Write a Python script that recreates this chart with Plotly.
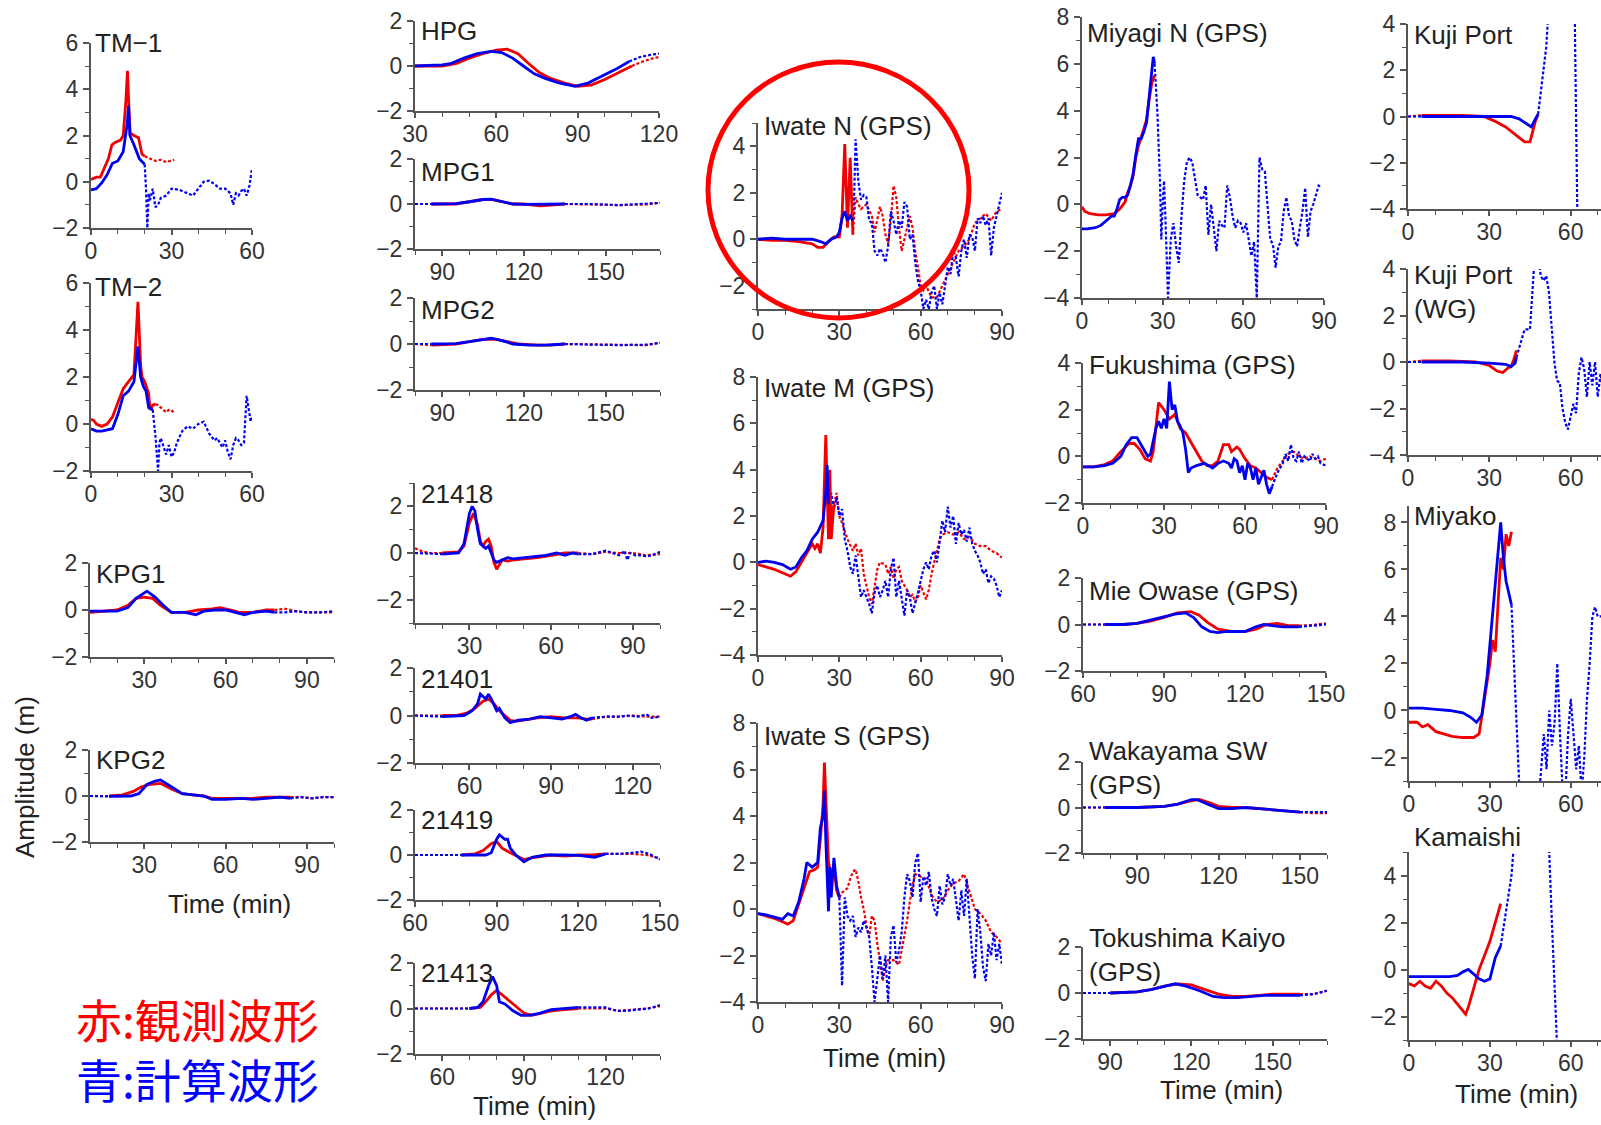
import plotly.graph_objects as go

# ---------------- data (time in min, amplitude in m) ----------------
# *_OBS = observed (red, solid), *_OBS_X = observed outside fit window (red, dotted)
# *_SIM = computed (blue, solid), *_SIM_X = computed outside fit window (blue, dotted)

TM1_OBS = [(0, 0.1), (2, 0.2), (3.5, 0.2), (5, 0.6), (6.5, 1.0), (7.8, 1.6), (9, 1.7), (11, 1.8), (12, 2.0),
           (13, 3.5), (13.6, 4.8), (14.2, 3.0), (14.6, 2.1), (16, 2.0), (17.7, 1.9), (19, 1.2), (20, 1.1)]
TM1_OBS_X = [(20, 1.1), (22, 1.0), (24, 0.9), (26, 0.95), (28, 0.85), (31, 0.95)]
TM1_SIM = [(0, -0.35), (2, -0.3), (4, -0.05), (6, 0.3), (8, 0.8), (10, 0.9), (12, 1.3), (13.5, 2.5), (14, 3.3),
           (14.5, 2.0), (16, 1.6), (18, 1.0), (20, 0.75)]
TM1_SIM_X = [(20, 0.75), (20.5, -0.3), (21, -2.0), (21.5, -0.5), (22, -0.8), (23, -0.3), (24, -1.1), (25, -1.0),
             (26, -0.7), (28, -0.6), (30, -0.3), (33, -0.35), (36, -0.5), (38, -0.6), (40, -0.3), (42, 0.0),
             (44, 0.05), (46, -0.1), (48, -0.3), (50, -0.3), (52, -0.5), (53, -1.0), (54, -0.5), (55, -0.6),
             (56, -0.4), (57, -0.3), (58, -0.6), (59, -0.2), (60, 0.55)]

TM2_OBS = [(0, 0.2), (1, 0.15), (2, 0.0), (4, -0.1), (6, 0.0), (8, 0.3), (10, 0.9), (12, 1.5), (14, 1.8),
           (16, 2.1), (17.5, 5.2), (18.5, 2.5), (19, 2.0), (20, 1.8), (21.5, 1.3), (22, 0.6), (23, 0.8), (24, 0.85)]
TM2_OBS_X = [(24, 0.85), (25, 0.8), (26, 0.7), (28, 0.5), (29, 0.6), (30, 0.6), (31, 0.45)]
TM2_SIM = [(0, -0.2), (2, -0.3), (4, -0.3), (6, -0.25), (8, -0.2), (10, 0.4), (12, 1.2), (14, 1.4), (16, 1.8),
           (17.5, 3.3), (18.5, 2.0), (19.5, 1.6), (20.5, 1.4), (21.5, 0.7), (23, 0.6)]
TM2_SIM_X = [(23, 0.6), (24, -0.5), (25, -2.0), (25.5, -0.8), (26, -0.6), (27, -1.0), (28, -1.3), (29, -0.9),
             (30, -1.4), (31, -1.2), (32, -0.8), (34, -0.3), (36, -0.1), (38, -0.2), (40, 0.0), (42, 0.1),
             (44, -0.4), (46, -0.7), (47, -0.6), (48, -0.8), (49, -1.0), (50, -0.7), (51, -1.2), (52, -1.5),
             (53, -0.9), (54, -0.6), (55, -0.7), (56, -0.9), (57, -0.8), (58, 1.2), (59, 0.5), (59.5, 0.1), (60, 0.3)]

KPG1_OBS = [(10, -0.1), (15, -0.05), (20, 0.0), (24, 0.2), (27, 0.5), (30, 0.55), (33, 0.5), (36, 0.2), (40, -0.1),
            (45, -0.1), (50, 0.0), (55, 0.05), (58, 0.1), (62, 0.0), (65, -0.1), (70, -0.1), (75, 0.0), (78, 0.0)]
KPG1_OBS_X = [(78, 0.0), (82, 0.05), (86, -0.05), (90, -0.1), (95, -0.1), (100, -0.1)]
KPG1_SIM = [(10, -0.05), (20, -0.05), (24, 0.1), (27, 0.5), (31, 0.8), (34, 0.55), (37, 0.2), (40, -0.1), (45, -0.1),
            (49, -0.2), (52, -0.05), (56, 0.0), (60, 0.0), (64, -0.1), (67, -0.2), (70, -0.1), (75, -0.05), (78, -0.1)]
KPG1_SIM_X = [(78, -0.1), (82, -0.1), (86, -0.05), (90, -0.1), (95, -0.1), (100, -0.05)]

KPG2_OBS = [(17, 0.0), (22, 0.05), (26, 0.2), (29, 0.4), (32, 0.5), (36, 0.55), (40, 0.3), (44, 0.1), (48, 0.05),
            (52, 0.0), (55, -0.1), (60, -0.1), (65, -0.1), (70, -0.1), (75, -0.05), (80, -0.05), (84, -0.05)]
KPG2_OBS_X = [(10, 0.0), (17, 0.0), None, (84, -0.05), (88, -0.05), (92, -0.1), (96, -0.05), (100, -0.05)]
KPG2_SIM = [(17, -0.02), (25, 0.0), (28, 0.1), (31, 0.5), (34, 0.65), (36, 0.7), (40, 0.4), (44, 0.1), (48, 0.05),
            (52, 0.0), (55, -0.15), (60, -0.15), (66, -0.1), (70, -0.15), (75, -0.1), (80, -0.05), (84, -0.1)]
KPG2_SIM_X = [(10, 0.0), (17, -0.02), None, (84, -0.1), (88, -0.05), (92, -0.1), (96, -0.05), (100, -0.05)]

HPG_OBS = [(30, 0.0), (35, 0.0), (40, 0.0), (45, 0.1), (50, 0.35), (55, 0.55), (60, 0.7), (64, 0.75), (68, 0.55),
           (72, 0.1), (76, -0.3), (80, -0.55), (85, -0.75), (90, -0.9), (95, -0.85), (100, -0.6), (105, -0.3), (110, 0.0)]
HPG_OBS_X = [(110, 0.0), (114, 0.2), (118, 0.35), (120, 0.4)]
HPG_SIM = [(30, 0.0), (40, 0.05), (43, 0.1), (48, 0.35), (53, 0.55), (58, 0.65), (62, 0.6), (66, 0.35), (70, 0.0),
           (74, -0.35), (78, -0.55), (83, -0.75), (89, -0.9), (94, -0.75), (99, -0.45), (104, -0.15), (109, 0.2)]
HPG_SIM_X = [(109, 0.2), (113, 0.4), (117, 0.5), (120, 0.55)]

MPG1_OBS = [(86, 0.0), (95, 0.0), (100, 0.1), (105, 0.2), (108, 0.2), (112, 0.1), (116, 0.0), (120, 0.0),
            (126, -0.08), (130, -0.05), (135, 0.0)]
MPG1_OBS_X = [(80, 0.0), (86, 0.0), None, (135, 0.0), (145, -0.02), (155, -0.05), (165, -0.02), (170, 0.05)]
MPG1_SIM = [(86, 0.0), (95, 0.02), (100, 0.1), (105, 0.2), (108, 0.22), (112, 0.1), (116, 0.0), (120, -0.02),
            (126, -0.02), (130, 0.0), (135, 0.0)]
MPG1_SIM_X = [(80, 0.0), (86, 0.0), None, (135, 0.0), (145, 0.0), (155, -0.05), (165, 0.0), (170, 0.05)]

MPG2_OBS = [(86, -0.05), (95, 0.0), (100, 0.1), (105, 0.2), (110, 0.2), (114, 0.1), (118, 0.0), (125, -0.05),
            (130, -0.05), (135, 0.0)]
MPG2_OBS_X = [(80, 0.0), (86, -0.05), None, (135, 0.0), (145, -0.02), (155, -0.05), (165, -0.05), (170, 0.05)]
MPG2_SIM = [(86, 0.0), (95, 0.02), (100, 0.1), (105, 0.2), (108, 0.25), (112, 0.15), (116, 0.0), (122, -0.05),
            (128, -0.05), (135, 0.0)]
MPG2_SIM_X = [(80, 0.0), (86, 0.0), None, (135, 0.0), (145, -0.02), (155, -0.05), (165, -0.03), (170, 0.05)]

D21418_OBS = [(20, 0.0), (26, 0.05), (28, 0.3), (30, 1.3), (31.5, 1.7), (33, 1.2), (34, 0.5), (35, 0.3), (36, 0.5),
              (37, 0.6), (38, 0.3), (39, -0.4), (40, -0.7), (41, -0.5), (42, -0.3), (44, -0.35), (46, -0.3),
              (50, -0.25), (55, -0.2), (60, -0.1), (65, 0.0), (70, 0.0)]
D21418_OBS_X = [(10, 0.2), (12, 0.1), (15, 0.0), (20, 0.0), None, (70, 0.0), (75, -0.05), (80, 0.05), (85, 0.0),
                (90, 0.0), (95, -0.1), (100, -0.05)]
D21418_SIM = [(20, -0.05), (26, 0.0), (28, 0.4), (30, 1.7), (31, 2.0), (32, 1.8), (33, 1.0), (34, 0.4), (36, 0.2),
              (37, 0.3), (38, 0.0), (39, -0.3), (40, -0.4), (42, -0.3), (44, -0.2), (46, -0.25), (50, -0.2),
              (55, -0.15), (58, -0.1), (62, 0.0), (65, -0.1), (68, 0.0), (70, -0.05)]
D21418_SIM_X = [(10, 0.0), (20, -0.05), None, (70, -0.05), (75, -0.05), (80, 0.1), (83, 0.0), (85, -0.1), (87, 0.1),
                (88, -0.3), (89, 0.0), (91, -0.1), (93, -0.1), (95, -0.15), (97, -0.1), (100, 0.05)]

D21401_OBS = [(50, 0.0), (55, 0.0), (59, 0.1), (62, 0.3), (65, 0.6), (67, 0.7), (69, 0.5), (71, 0.2), (73, 0.0),
              (75, -0.2), (77, -0.25), (80, -0.2), (85, -0.1), (90, -0.05), (95, -0.1), (100, -0.1), (103, -0.15),
              (105, -0.15)]
D21401_OBS_X = [(40, 0.0), (50, 0.0), None, (105, -0.15), (110, -0.05), (115, -0.05), (120, 0.0), (125, -0.05),
                (130, -0.05)]
D21401_SIM = [(50, -0.05), (58, 0.0), (61, 0.2), (63, 0.5), (64, 0.9), (66, 0.7), (67, 0.9), (68, 0.7), (70, 0.2),
              (71, 0.3), (73, -0.1), (75, -0.3), (78, -0.2), (82, -0.15), (86, -0.05), (90, -0.1), (94, -0.15),
              (97, -0.05), (99, 0.05), (101, -0.1), (103, -0.2), (105, -0.1)]
D21401_SIM_X = [(40, 0.0), (50, -0.05), None, (105, -0.1), (110, -0.05), (115, -0.05), (118, 0.0), (122, -0.05),
                (125, 0.05), (127, -0.1), (130, -0.05)]

D21419_OBS = [(77, 0.0), (82, 0.05), (85, 0.2), (88, 0.5), (90, 0.6), (92, 0.3), (95, 0.1), (98, -0.1), (100, -0.2),
              (104, -0.1), (110, 0.0), (115, -0.05), (120, 0.0), (125, 0.0), (130, 0.05)]
D21419_OBS_X = [(60, 0.0), (77, 0.0), None, (130, 0.05), (135, 0.05), (140, 0.05), (145, 0.0), (150, -0.15)]
D21419_SIM = [(77, 0.0), (86, 0.0), (88, 0.1), (90, 0.7), (91, 0.9), (93, 0.7), (94, 0.7), (95, 0.3), (97, 0.0),
              (100, -0.3), (103, -0.1), (108, 0.0), (115, 0.0), (120, -0.02), (126, -0.1), (130, 0.05)]
D21419_SIM_X = [(60, 0.0), (77, 0.0), None, (130, 0.05), (135, 0.05), (140, 0.1), (143, 0.15), (146, 0.05),
                (150, -0.2)]

D21413_OBS = [(70, 0.0), (74, 0.05), (76, 0.3), (78, 0.6), (80, 0.8), (82, 0.6), (84, 0.4), (87, 0.1), (90, -0.2),
              (93, -0.3), (96, -0.2), (100, -0.1), (105, -0.05), (110, 0.0)]
D21413_OBS_X = [(50, 0.0), (70, 0.0), None, (110, 0.0), (115, 0.0), (120, 0.0), (125, -0.1), (130, -0.05),
                (135, 0.0), (140, 0.1)]
D21413_SIM = [(70, 0.0), (73, 0.05), (75, 0.3), (77, 1.0), (78.5, 1.4), (80, 1.0), (81, 0.3), (83, 0.2), (86, -0.1),
              (89, -0.3), (92, -0.3), (96, -0.2), (100, -0.05), (105, 0.0), (110, 0.05)]
D21413_SIM_X = [(50, 0.0), (70, 0.0), None, (110, 0.05), (115, 0.05), (120, 0.05), (124, -0.1), (128, -0.1),
                (132, -0.05), (136, 0.0), (140, 0.15)]

IWN_OBS = [(0, 0.0), (5, -0.05), (10, -0.05), (15, -0.1), (20, -0.2), (22, -0.35), (24, -0.35), (26, -0.1),
           (28, 0.1), (30, 0.1), (31, 1.0), (32, 4.1), (33, 0.5), (34, 3.5), (35, 0.2)]
IWN_OBS_X = [(35, 0.2), (36, 1.8), (37, 1.5), (38, 1.3), (40, 1.5), (42, 1.0), (43, 0.3), (45, 1.4), (46, 1.0),
             (47, 0.2), (48, -0.2), (49, 0.8), (50, 2.3), (51, 1.8), (52, 0.5), (53, -0.5), (54, 0.0), (56, 1.0),
             (57, 0.5), (58, -0.5), (59, -1.2), (60, -2.0), (61, -2.2), (62, -2.0), (64, -2.5), (66, -2.5),
             (68, -2.0), (70, -1.5), (72, -1.0), (74, -0.5), (76, -0.3), (78, 0.0), (80, 0.7), (82, 0.9), (84, 1.1),
             (86, 0.8), (88, 1.2), (90, 1.3)]
IWN_SIM = [(0, 0.0), (5, 0.05), (10, 0.0), (15, 0.0), (20, 0.0), (23, -0.1), (25, -0.2), (27, 0.0), (29, 0.1),
           (30, 0.3), (31, 0.9), (32, 1.2), (33, 0.8), (34, 1.0), (35, 0.8)]
IWN_SIM_X = [(35, 0.8), (35.5, 2.0), (36, 4.3), (37, 2.5), (38, 1.7), (39, 1.9), (40, 1.8), (41, 0.8), (42, 0.7),
             (43, -0.5), (44, -0.7), (45, -0.4), (46, -0.6), (47, -1.0), (48, -0.3), (49, 1.2), (50, 0.8),
             (51, 0.2), (52, 0.8), (53, 0.5), (54, 1.6), (55, 1.4), (56, 0.0), (57, 0.2), (58, -1.0), (59, -1.8),
             (60, -2.2), (61, -3.0), (62, -2.6), (63, -3.0), (64, -2.3), (65, -2.0), (66, -3.0), (67, -2.3),
             (68, -2.8), (69, -2.0), (70, -1.2), (71, -1.5), (72, -0.5), (73, -0.8), (74, -1.6), (75, -0.5),
             (76, 0.0), (77, -0.8), (78, 0.2), (79, 0.1), (80, -0.5), (81, 0.9), (82, 0.7), (83, 1.0), (84, 0.6),
             (85, 0.9), (86, -0.7), (87, 0.5), (88, 1.0), (89, 1.5), (90, 2.0)]

IWM_OBS = [(0, -0.1), (3, -0.2), (6, -0.3), (9, -0.45), (12, -0.6), (14, -0.4), (16, 0.0), (18, 0.4), (20, 0.8),
           (21, 0.6), (22, 0.8), (23, 0.4), (24, 1.5), (25, 5.5), (26, 1.0), (26.5, 4.0), (27, 1.0), (28, 2.5)]
IWM_OBS_X = [(28, 2.5), (29, 3.0), (30, 2.0), (31, 1.7), (33, 1.0), (35, 0.5), (36, 0.8), (37, 0.3), (38, 0.6),
             (39, -0.5), (40, -1.0), (41, -1.5), (42, -1.8), (43, -1.0), (44, -0.3), (45, 0.0), (47, -0.1),
             (48, -0.5), (49, -0.2), (50, -0.7), (51, -0.3), (52, -0.2), (53, -0.8), (54, -1.0), (55, -1.2),
             (56, -1.5), (57, -1.4), (58, -1.7), (59, -1.5), (60, -1.0), (61, -1.3), (62, -1.6), (63, -1.2),
             (64, -0.5), (65, 0.0), (66, 0.5), (67, 1.0), (68, 1.2), (70, 1.3), (72, 1.2), (74, 1.3), (76, 1.0),
             (78, 1.1), (80, 0.8), (82, 0.7), (84, 0.7), (86, 0.5), (88, 0.4), (90, 0.2)]
IWM_SIM = [(0, 0.0), (3, 0.05), (6, 0.0), (9, -0.1), (12, -0.3), (14, -0.2), (16, 0.2), (18, 0.5), (20, 1.0),
           (22, 1.3), (24, 1.8), (25, 3.0), (25.5, 4.2), (26, 2.5)]
IWM_SIM_X = [(26, 2.5), (27, 3.0), (28, 2.3), (29, 2.8), (30, 2.0), (31, 2.3), (32, 1.0), (33, 0.5), (34, -0.2),
             (35, -0.5), (36, 0.3), (37, -0.7), (38, -1.5), (39, -1.2), (40, -1.5), (41, -1.8), (42, -2.2),
             (43, -1.3), (44, -1.0), (45, -1.5), (46, -1.2), (47, -0.8), (48, -1.5), (49, -0.3), (50, 0.2),
             (51, -1.5), (52, -0.8), (53, -1.6), (54, -2.3), (55, -1.2), (56, -1.5), (57, -2.2), (58, -1.8),
             (59, -1.3), (60, -0.8), (61, -0.3), (62, 0.0), (63, -0.3), (64, 0.3), (65, 0.5), (66, 0.0), (67, 1.0),
             (68, 1.8), (69, 1.3), (70, 2.4), (71, 1.5), (72, 2.0), (73, 0.8), (74, 1.7), (75, 1.2), (76, 1.4),
             (77, 0.9), (78, 1.5), (79, 0.8), (80, 0.5), (81, 0.3), (82, 0.0), (83, -0.5), (84, -0.3), (85, -0.9),
             (86, -0.6), (87, -0.7), (88, -1.0), (89, -1.5), (90, -1.2)]

IWS_OBS = [(0, -0.2), (3, -0.3), (6, -0.4), (9, -0.55), (11, -0.65), (13, -0.5), (15, 0.2), (17, 1.0), (19, 1.6),
           (21, 1.7), (22, 1.8), (23, 3.0), (24, 4.5), (24.5, 6.3), (25, 5.0), (26, 2.0), (27, 1.5), (28, 1.8),
           (29, 0.8), (30, 0.5)]
IWS_OBS_X = [(30, 0.5), (31, 0.7), (32, 0.8), (33, 0.9), (34, 1.3), (35, 1.6), (36, 1.7), (37, 1.2), (38, 0.5),
             (39, 0.0), (40, -0.7), (41, -1.2), (42, -0.3), (43, -0.5), (44, -1.5), (45, -2.2), (46, -3.1),
             (47, -2.5), (48, -2.2), (50, -2.2), (52, -2.4), (53, -1.8), (54, -1.2), (55, -0.5), (56, 0.3),
             (57, 1.0), (58, 1.5), (60, 1.4), (62, 1.3), (64, 0.6), (66, 0.3), (68, 0.4), (70, 0.8), (72, 1.1),
             (74, 1.2), (76, 1.5), (78, 0.8), (80, 0.0), (82, -0.2), (84, -0.5), (86, -1.0), (88, -1.2), (90, -1.5)]
IWS_SIM = [(0, -0.2), (3, -0.25), (6, -0.35), (9, -0.45), (11, -0.2), (13, -0.3), (15, 0.3), (17, 1.3), (18, 2.0),
           (20, 1.8), (22, 2.0), (23, 3.5), (24, 4.0), (24.5, 5.1), (25, 3.0), (25.5, 1.5), (26, -0.1), (26.5, 1.8),
           (27, 0.5), (28, 2.2), (29, 1.0), (30, 0.5)]
IWS_SIM_X = [(30, 0.5), (31, -3.3), (32, 0.5), (33, -0.3), (34, -0.5), (35, -0.3), (36, -1.2), (37, -0.8),
             (38, -1.0), (39, -0.5), (40, -0.8), (41, -1.2), (42, -2.5), (43, -4.0), (44, -3.0), (45, -2.0),
             (46, -3.0), (47, -2.0), (48, -4.0), (49, -1.2), (50, -0.7), (51, -2.3), (52, -1.8), (53, -1.0),
             (54, 0.5), (55, 1.5), (56, 1.2), (57, 0.5), (58, 2.0), (59, 2.4), (60, 0.3), (61, 1.4), (62, 1.0),
             (63, 1.6), (64, 0.5), (65, 0.0), (66, -0.3), (67, 1.0), (68, 0.2), (69, 0.5), (70, 1.5), (71, 1.0),
             (72, 1.3), (73, 0.5), (74, -0.5), (75, 0.8), (76, -0.3), (77, 1.3), (78, -0.5), (79, -2.0), (80, -3.0),
             (81, 0.0), (82, -1.0), (83, -2.5), (84, -3.1), (85, -1.5), (86, -2.0), (87, -1.0), (88, -2.2),
             (89, -1.5), (90, -2.4)]

MYG_OBS = [(0, -0.1), (1, -0.3), (3, -0.4), (6, -0.45), (9, -0.45), (12, -0.4), (14, -0.2), (16, 0.1), (17, 0.5),
           (18, 0.8), (19, 1.2), (20, 2.0), (21, 2.5), (22, 2.9), (23, 3.3), (24, 3.6), (25, 4.5), (26, 5.2),
           (27, 5.5)]
MYG_OBS_X = []
MYG_SIM = [(0, -1.05), (2, -1.05), (5, -1.0), (7, -0.9), (9, -0.7), (11, -0.5), (12, -0.5), (13, -0.2), (14, 0.2),
           (15, 0.3), (16, 0.3), (17, 0.4), (18, 0.8), (19, 1.3), (20, 2.1), (21, 2.8), (22, 2.8), (23, 3.1),
           (24, 3.5), (25, 4.6), (26, 5.6), (26.5, 6.3), (27, 6.0)]
MYG_SIM_X = [(27, 6.0), (28, 4.0), (29, 1.0), (29.5, -1.5), (30, 0.0), (30.5, 1.0), (31, -0.5), (32, -4.0),
             (33, -1.5), (34, -0.8), (35, -1.8), (36, -2.5), (37, -0.5), (38, 1.0), (39, 1.8), (40, 2.0), (41, 1.8),
             (42, 1.0), (43, 0.4), (44, 0.3), (45, 0.2), (46, 0.8), (47, -1.3), (48, 0.0), (49, -1.0), (50, -2.0),
             (51, -0.7), (52, -0.9), (53, -1.0), (54, 0.8), (55, 0.3), (56, -0.5), (57, -1.0), (58, -0.7),
             (59, -0.8), (60, -1.2), (61, -0.8), (62, -1.5), (63, -2.2), (64, -1.6), (65, -4.0), (66, 2.0),
             (67, 1.5), (68, 1.4), (69, 0.0), (70, -1.5), (71, -1.7), (72, -2.7), (73, -1.8), (74, -1.6),
             (75, -0.3), (76, 0.3), (77, -0.5), (78, -0.7), (79, -1.5), (80, -1.8), (81, -1.0), (82, -0.3),
             (83, 0.7), (84, -1.4), (85, -0.3), (86, 0.0), (87, 0.4), (88, 0.8), (89, 0.7)]

FKS_OBS = [(0, -0.45), (4, -0.45), (8, -0.35), (11, -0.2), (14, 0.2), (17, 0.55), (19, 0.55), (21, 0.3), (23, -0.1),
           (25, -0.2), (26, 0.2), (27, 1.2), (28, 2.3), (30, 2.0), (32, 1.6), (34, 1.8), (36, 1.2), (38, 1.0),
           (40, 0.6), (42, 0.2), (44, -0.2), (46, -0.4), (48, -0.4), (50, -0.2), (52, 0.5), (54, 0.5), (55, 0.2),
           (57, 0.4), (58, 0.3), (60, -0.1), (62, -0.4), (64, -0.5), (66, -0.7), (68, -0.9), (70, -1.0)]
FKS_OBS_X = [(70, -1.0), (72, -0.5), (74, -0.2), (76, 0.1), (78, 0.2), (80, 0.0), (82, -0.1), (84, 0.0),
             (86, -0.1), (88, -0.2), (90, -0.1)]
FKS_SIM = [(0, -0.45), (4, -0.45), (8, -0.4), (11, -0.3), (14, 0.0), (16, 0.5), (18, 0.8), (20, 0.8), (22, 0.4),
           (24, 0.0), (25, 0.1), (27, 1.2), (28, 1.5), (29, 1.2), (30, 1.6), (31, 1.2), (32, 3.2), (33, 2.0),
           (34, 2.2), (35, 1.5), (36, 1.3), (37, 1.0), (38, 0.3), (39, -0.7), (40, -0.5), (42, -0.4), (45, -0.3),
           (48, -0.5), (50, -0.3), (52, -0.2), (54, -0.3), (55, -0.5), (56, -0.1), (57, -0.2), (58, -0.7),
           (59, -0.4), (60, -1.0), (61, -0.3), (62, -0.5), (63, -1.0), (64, -0.5), (65, -1.2), (66, -0.9),
           (67, -0.6), (68, -1.2), (69, -1.6), (70, -1.3)]
FKS_SIM_X = [(70, -1.3), (71, -1.0), (72, -0.7), (74, -0.3), (75, 0.1), (76, -0.2), (77, 0.5), (78, -0.1),
             (79, -0.2), (80, 0.2), (81, -0.3), (82, 0.0), (84, -0.2), (85, 0.1), (86, -0.1), (87, 0.0), (88, -0.3),
             (90, -0.4)]

MIE_OBS = [(68, 0.0), (75, 0.0), (80, 0.05), (85, 0.15), (90, 0.3), (95, 0.5), (100, 0.55), (103, 0.4), (106, 0.1),
           (110, -0.2), (115, -0.3), (120, -0.3), (124, -0.2), (128, 0.0), (132, 0.05), (136, -0.05), (140, -0.05)]
MIE_OBS_X = [(60, 0.0), (68, 0.0), None, (140, -0.05), (145, -0.02), (150, 0.05)]
MIE_SIM = [(68, 0.0), (75, 0.0), (80, 0.05), (85, 0.2), (90, 0.35), (94, 0.45), (98, 0.5), (101, 0.3), (104, -0.1),
           (107, -0.3), (110, -0.35), (113, -0.3), (117, -0.3), (120, -0.3), (124, -0.1), (127, 0.0), (130, -0.05),
           (134, -0.1), (138, -0.1), (140, -0.1)]
MIE_SIM_X = [(60, 0.0), (68, 0.0), None, (140, -0.1), (145, -0.05), (150, 0.0)]

WAK_OBS = [(78, 0.0), (90, 0.0), (100, 0.05), (105, 0.15), (110, 0.3), (113, 0.35), (117, 0.2), (120, 0.05),
           (125, 0.0), (130, 0.0), (135, -0.05), (140, -0.1), (145, -0.15), (150, -0.2)]
WAK_OBS_X = [(70, 0.0), (78, 0.0), None, (150, -0.2), (155, -0.25), (160, -0.25)]
WAK_SIM = [(78, 0.0), (90, 0.0), (100, 0.05), (105, 0.15), (110, 0.35), (112, 0.35), (116, 0.15), (120, -0.05),
           (125, -0.05), (130, 0.0), (135, -0.05), (140, -0.1), (145, -0.15), (150, -0.2)]
WAK_SIM_X = [(70, 0.0), (78, 0.0), None, (150, -0.2), (155, -0.2), (160, -0.2)]

TKS_OBS = [(90, 0.0), (100, 0.05), (105, 0.15), (110, 0.3), (115, 0.4), (120, 0.35), (125, 0.15), (130, -0.05),
           (135, -0.15), (140, -0.15), (145, -0.1), (150, -0.05), (155, -0.05), (160, -0.05)]
TKS_OBS_X = [(80, 0.0), (90, 0.0), None, (160, -0.05), (165, -0.05), (170, 0.1)]
TKS_SIM = [(90, 0.0), (100, 0.05), (105, 0.15), (110, 0.3), (114, 0.4), (118, 0.3), (123, 0.1), (128, -0.15),
           (132, -0.2), (137, -0.2), (142, -0.15), (147, -0.1), (152, -0.1), (160, -0.1)]
TKS_SIM_X = [(80, 0.0), (90, 0.0), None, (160, -0.1), (165, -0.05), (170, 0.1)]

KUJ_OBS = [(5, 0.05), (10, 0.05), (20, 0.05), (28, 0.0), (32, -0.2), (36, -0.45), (40, -0.8), (43, -1.1),
           (45, -1.1), (46, -0.6), (47, -0.2), (48, 0.1)]
KUJ_OBS_X = [(0, 0.0), (5, 0.05)]
KUJ_SIM = [(5, 0.0), (20, 0.0), (30, 0.0), (38, 0.0), (41, -0.1), (44, -0.35), (45.5, -0.45), (47, -0.1), (48, 0.1)]
KUJ_SIM_X = [(0, 0.0), (5, 0.0), None, (48, 0.1), (49, 1.0), (50, 2.0), (51, 3.0), (51.5, 4.0), (52, 5.5), (55, 8.0),
             (60, 8.0), (61.5, 4.5), (62.5, -4.5)]

KUW_OBS = [(5, 0.05), (15, 0.05), (25, 0.0), (30, -0.15), (33, -0.4), (35, -0.45), (37, -0.25), (38, -0.2),
           (39, 0.1), (40, 0.5)]
KUW_OBS_X = [(0, 0.0), (5, 0.05)]
KUW_SIM = [(5, 0.0), (20, 0.0), (30, -0.05), (36, -0.1), (38, -0.2), (39.5, -0.05), (40, 0.2)]
KUW_SIM_X = [(0, 0.0), (5, 0.0), None, (40, 0.2), (41, 0.6), (42, 1.0), (43, 1.4), (45, 1.4), (46, 3.0), (46.5, 4.0),
             (47, 5.0), (48, 4.5), (48.5, 4.0), (49, 3.7), (50, 3.5), (51, 3.7), (52, 3.0), (53, 1.5), (54, 0.0),
             (55, -0.8), (56, -0.9), (57, -2.0), (58, -2.6), (59, -2.9), (60, -2.3), (61, -1.8), (62, -2.2),
             (63, -0.5), (64, 0.2), (65, -0.3), (66, -1.5), (67, 0.0), (68, -1.0), (69, 0.0), (70, -1.5), (71, -0.5),
             (72, -1.2)]

MYK_OBS = [(0, -0.5), (3, -0.5), (5, -0.7), (7, -0.6), (10, -0.9), (13, -1.0), (16, -1.1), (20, -1.15), (24, -1.15),
           (26, -1.0), (28, 0.5), (30, 2.0), (31, 3.0), (32, 2.5), (33, 4.5), (34, 6.5), (35, 6.0), (36, 7.5),
           (37, 7.0), (38, 7.6)]
MYK_OBS_X = []
MYK_SIM = [(0, 0.1), (5, 0.1), (10, 0.05), (15, 0.0), (20, -0.1), (23, -0.3), (25, -0.5), (27, -0.2), (29, 1.5),
           (31, 4.0), (33, 6.5), (34, 8.0), (35, 6.5), (36, 5.5), (37, 5.0), (38, 4.5)]
MYK_SIM_X = [(38, 4.5), (39, 2.0), (40, -1.0), (41, -3.5), (42, -4.0), (48, -4.0), (50, -1.0), (51, -2.5),
             (52, 0.0), (53, -1.5), (54, -0.5), (55, 2.0), (56, -1.0), (57, -3.5), (58, -3.5), (59, -1.0), (60, 0.5),
             (61, -1.0), (62, -2.5), (63, -1.5), (64, -3.5), (65, -2.0), (66, 0.5), (67, 2.0), (68, 4.0), (69, 4.4),
             (70, 4.0), (71.5, 4.0)]

KMS_OBS = [(0, -0.6), (2, -0.7), (4, -0.5), (6, -0.7), (8, -0.8), (10, -0.5), (12, -0.7), (14, -1.0), (16, -1.2),
           (18, -1.5), (20, -1.8), (21, -1.9), (22, -1.6), (24, -0.8), (26, 0.0), (28, 0.6), (30, 1.2), (32, 2.0),
           (34, 2.8)]
KMS_OBS_X = []
KMS_SIM = [(0, -0.3), (5, -0.3), (10, -0.3), (15, -0.3), (18, -0.25), (20, -0.1), (22, 0.0), (24, -0.2),
           (26, -0.4), (28, -0.5), (30, -0.4), (32, 0.5), (34, 1.0)]
KMS_SIM_X = [(34, 1.0), (36, 2.5), (38, 4.0), (39, 5.5), (40, 7.0), None, (51, 7.0), (52, 5.0), (53, 2.0),
             (54, -1.0), (55, -3.5)]

# ---------------- layout of the panels (pixel boxes: left, right, top, bottom) ----------------
W, H = 1601, 1125
PANELS = [
    ("TM\u22121", (91, 252, 43, 228), (0, 60), (-2, 6), (93, 43), (TM1_OBS, TM1_OBS_X, TM1_SIM, TM1_SIM_X)),
    ("TM\u22122", (91, 252, 283, 471), (0, 60), (-2, 6), (93, 287), (TM2_OBS, TM2_OBS_X, TM2_SIM, TM2_SIM_X)),
    ("KPG1", (90, 334, 563, 657), (10, 100), (-2, 2), (94, 574), (KPG1_OBS, KPG1_OBS_X, KPG1_SIM, KPG1_SIM_X)),
    ("KPG2", (90, 334, 750, 842), (10, 100), (-2, 2), (94, 760), (KPG2_OBS, KPG2_OBS_X, KPG2_SIM, KPG2_SIM_X)),
    ("HPG", (415, 659, 21, 111), (30, 120), (-2, 2), (419, 31), (HPG_OBS, HPG_OBS_X, HPG_SIM, HPG_SIM_X)),
    ("MPG1", (415, 660, 159, 249), (80, 170), (-2, 2), (419, 172), (MPG1_OBS, MPG1_OBS_X, MPG1_SIM, MPG1_SIM_X)),
    ("MPG2", (415, 660, 298, 390), (80, 170), (-2, 2), (419, 310), (MPG2_OBS, MPG2_OBS_X, MPG2_SIM, MPG2_SIM_X)),
    ("21418", (415, 660, 483, 623), (10, 100), (-3, 3), (419, 494), (D21418_OBS, D21418_OBS_X, D21418_SIM, D21418_SIM_X)),
    ("21401", (415, 660, 668, 763), (40, 130), (-2, 2), (419, 679), (D21401_OBS, D21401_OBS_X, D21401_SIM, D21401_SIM_X)),
    ("21419", (415, 660, 810, 900), (60, 150), (-2, 2), (419, 820), (D21419_OBS, D21419_OBS_X, D21419_SIM, D21419_SIM_X)),
    ("21413", (415, 660, 963, 1054), (50, 140), (-2, 2), (419, 973), (D21413_OBS, D21413_OBS_X, D21413_SIM, D21413_SIM_X)),
    ("Iwate N (GPS)", (758, 1002, 123, 309), (0, 90), (-3, 5), (762, 126), (IWN_OBS, IWN_OBS_X, IWN_SIM, IWN_SIM_X)),
    ("Iwate M (GPS)", (758, 1002, 377, 655), (0, 90), (-4, 8), (762, 388), (IWM_OBS, IWM_OBS_X, IWM_SIM, IWM_SIM_X)),
    ("Iwate S (GPS)", (758, 1002, 723, 1002), (0, 90), (-4, 8), (762, 736), (IWS_OBS, IWS_OBS_X, IWS_SIM, IWS_SIM_X)),
    ("Miyagi N (GPS)", (1082, 1324, 17, 298), (0, 90), (-4, 8), (1085, 33), (MYG_OBS, MYG_OBS_X, MYG_SIM, MYG_SIM_X)),
    ("Fukushima (GPS)", (1083, 1326, 363, 503), (0, 90), (-2, 4), (1087, 365), (FKS_OBS, FKS_OBS_X, FKS_SIM, FKS_SIM_X)),
    ("Mie Owase (GPS)", (1083, 1326, 578, 671), (60, 150), (-2, 2), (1087, 591), (MIE_OBS, MIE_OBS_X, MIE_SIM, MIE_SIM_X)),
    ("Wakayama SW<br>(GPS)", (1083, 1327, 762, 853), (70, 160), (-2, 2), (1087, 768), (WAK_OBS, WAK_OBS_X, WAK_SIM, WAK_SIM_X)),
    ("Tokushima Kaiyo<br>(GPS)", (1083, 1327, 947, 1039), (80, 170), (-2, 2), (1087, 955), (TKS_OBS, TKS_OBS_X, TKS_SIM, TKS_SIM_X)),
    ("Kuji Port", (1408, 1601, 24, 209), (0, 71.2), (-4, 4), (1412, 35), (KUJ_OBS, KUJ_OBS_X, KUJ_SIM, KUJ_SIM_X)),
    ("Kuji Port<br>(WG)", (1408, 1601, 269, 455), (0, 71.2), (-4, 4), (1412, 292), (KUW_OBS, KUW_OBS_X, KUW_SIM, KUW_SIM_X)),
    ("Miyako", (1409, 1601, 506, 781), (0, 71.2), (-3, 8.7), (1412, 516), (MYK_OBS, MYK_OBS_X, MYK_SIM, MYK_SIM_X)),
    ("Kamaishi", (1409, 1601, 852, 1040), (0, 71.2), (-3, 5), (1412, 837), (KMS_OBS, KMS_OBS_X, KMS_SIM, KMS_SIM_X)),
]

RED = "#f00000"
BLUE = "#0000f0"
AXC = "#555555"
TXT = "#222222"
TICKFONT = dict(family="Liberation Sans Narrow, Arial Narrow, Liberation Sans, Arial", size=23, color="#333333")
TITLEFONT = dict(family="Liberation Sans, Arial, sans-serif", size=26, color=TXT)


def split(pairs):
    xs, ys = [], []
    for p in pairs:
        if p is None:
            xs.append(None)
            ys.append(None)
        else:
            xs.append(p[0])
            ys.append(p[1])
    return xs, ys


fig = go.Figure()
layout = dict(width=W, height=H, autosize=False,
              margin=dict(l=0, r=0, t=0, b=0, pad=0, autoexpand=False), showlegend=False,
              paper_bgcolor="white", plot_bgcolor="white")
annotations = []

for i, (title, box, xr, yr, tpos, series) in enumerate(PANELS, start=1):
    sfx = "" if i == 1 else str(i)
    left, right, top, bottom = box
    xdom = [left / W, right / W]
    ydom = [1 - bottom / H, 1 - top / H]
    common = dict(showgrid=False, zeroline=False, showline=True, linecolor=AXC, linewidth=2,
                  ticks="outside", tickwidth=1.5, tickcolor=AXC, tickfont=TICKFONT,
                  fixedrange=True, automargin=False)
    layout["xaxis" + sfx] = dict(domain=xdom, range=list(xr), anchor="y" + sfx, tick0=0, dtick=30,
                                 ticklen=5, ticklabelstandoff=-4,
                                 minor=dict(dtick=10, ticks="outside", ticklen=4, tickcolor=AXC, tickwidth=1.2),
                                 **common)
    layout["yaxis" + sfx] = dict(domain=ydom, range=list(yr), anchor="x" + sfx, tick0=0, dtick=2,
                                 ticklen=6,
                                 minor=dict(dtick=1, ticks="outside", ticklen=4, tickcolor=AXC, tickwidth=1.2),
                                 **common)
    obs, obs_x, sim, sim_x = series
    for pairs, col, dash, wdt in ((obs_x, RED, "3px,2px", 2.2), (sim_x, BLUE, "3px,2px", 2.2),
                                  (obs, RED, "solid", 2.8), (sim, BLUE, "solid", 2.8)):
        if not pairs:
            continue
        xs, ys = split(pairs)
        fig.add_trace(go.Scatter(x=xs, y=ys, mode="lines", xaxis="x" + sfx, yaxis="y" + sfx,
                                 line=dict(color=col, width=wdt, dash=dash), hoverinfo="skip",
                                 connectgaps=False))
    annotations.append(dict(text=title, x=tpos[0] / W, y=1 - tpos[1] / H, xref="paper", yref="paper",
                            xanchor="left", yanchor="middle", showarrow=False, align="left",
                            font=TITLEFONT))

# axis titles
for (tx, ty) in ((229, 904), (534, 1106), (884, 1058), (1221, 1090), (1516, 1094)):
    annotations.append(dict(text="Time (min)", x=tx / W, y=1 - ty / H, xref="paper", yref="paper",
                            xanchor="center", yanchor="middle", showarrow=False, font=TITLEFONT))
annotations.append(dict(text="Amplitude (m)", x=25 / W, y=1 - 777 / H, xref="paper", yref="paper",
                        xanchor="center", yanchor="middle", textangle=-90, showarrow=False, font=TITLEFONT))

# legend text (Japanese), one two-line block
CJK = "Noto Sans CJK JP, Noto Sans CJK SC, sans-serif"
annotations.append(dict(text="<span style='color:#ff0000'>赤:観測波形</span><br>"
                             "<span style='color:#0000ff'>青:計算波形</span>",
                        x=74 / W, y=1 - 1048 / H, xref="paper", yref="paper",
                        xanchor="left", yanchor="middle", showarrow=False, align="left",
                        font=dict(family=CJK, size=46, color="#ff0000")))

layout["annotations"] = annotations
layout["shapes"] = [dict(type="circle", xref="paper", yref="paper",
                         x0=708 / W, x1=969 / W, y0=1 - 318 / H, y1=1 - 62 / H,
                         line=dict(color="#ff0000", width=5))]

fig.update_layout(**layout)
fig.write_html("out.html", config={"displayModeBar": False},
               post_script="document.body.style.margin='0';")
